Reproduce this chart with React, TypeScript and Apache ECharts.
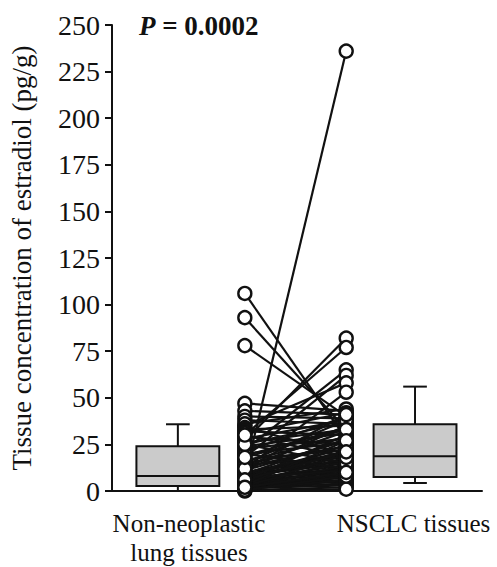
import React, { useEffect, useRef } from "react";
import * as echarts from "echarts";

// ---- data ----
const categories = ["Non-neoplastic\nlung tissues", "NSCLC tissues"];
const yTicks = { min: 0, max: 250, step: 25 };
const pValueText = "0.0002";
const yTitle = "Tissue concentration of estradiol (pg/g)";

// paired values (same index = same patient)
const nonNeoplastic = [
  8, 106, 93, 78, 27, 30, 22, 18, 35, 12, 47, 43, 40, 38, 36, 34, 33, 32, 31, 29,
  28, 26, 25, 24, 23, 21, 20, 19, 17, 16, 15, 14, 13, 11, 10, 10, 9, 9, 8.5, 8,
  7.5, 7, 6.5, 6, 5.5, 5, 5, 4.5, 4, 4, 3.5, 3, 3, 2.5, 2, 2, 1.5, 1, 0.5, 0,
  1, 2, 3, 4, 5, 6, 7, 9, 11, 13, 15, 20, 25, 30, 0.5, 12, 18, 3, 6, 2,
];
const nsclc = [
  236, 28, 33, 40, 82, 77, 65, 62, 58, 53, 43, 41, 39, 36, 44, 20, 35, 30, 42, 25,
  38, 33, 37, 31, 28, 40, 26, 34, 22, 29, 24, 18, 32, 27, 21, 19, 23, 16, 20, 15,
  17, 12, 19, 14, 10, 13, 9, 11, 8, 18, 7, 6, 12, 5, 9, 4, 3, 6, 2, 1,
  14, 20, 16, 25, 22, 30, 11, 28, 35, 24, 38, 12, 15, 18, 8, 41, 33, 27, 21, 10,
];

// box stats: [lower whisker, Q1, median, Q3, upper whisker]
const boxNonNeoplastic = [0, 2.7, 8, 24, 35.8];
const boxNsclc = [4.3, 7.5, 18.7, 35.8, 56];

// ---- layout (positions on a hidden 0..10 horizontal scale) ----
const X_MIN = 0;
const X_MAX = 10;
const BOX_X = [1.78, 8.19];
const PAIR_X = [3.59, 6.33];
const LABEL_X = [2.08, 8.15];
const BOX_HALF = 1.12;
const CAP_HALF = 0.32;

const FONT = "'Liberation Serif', 'Times New Roman', serif";

export default function App() {
  const ref = useRef<HTMLDivElement>(null);

  useEffect(() => {
    if (!ref.current) return;
    document.body.style.margin = "0";
    const chart = echarts.init(ref.current, null, { renderer: "svg" });

    const boxData = [
      [BOX_X[0], ...boxNonNeoplastic],
      [BOX_X[1], ...boxNsclc],
    ];
    const pairData = nonNeoplastic.map((l, i) => [PAIR_X[0], l, PAIR_X[1], nsclc[i]]);
    const leftPts = nonNeoplastic.map((v) => [PAIR_X[0], v]);
    const rightPts = nsclc.map((v) => [PAIR_X[1], v]);

    const stroke = { stroke: "#111", lineWidth: 2 };

    chart.setOption({
      animation: false,
      textStyle: { fontFamily: FONT },
      title: {
        text: "{i|P}{b| = " + pValueText + "}",
        left: 134,
        top: 7,
        textStyle: {
          rich: {
            i: { fontFamily: FONT, fontStyle: "italic", fontWeight: "bold", fontSize: 27, color: "#111" },
            b: { fontFamily: FONT, fontWeight: "bold", fontSize: 27, color: "#111" },
          },
        },
      },
      grid: { left: 106, right: 15, top: 25, bottom: 74 },
      xAxis: {
        type: "value",
        min: X_MIN,
        max: X_MAX,
        axisLine: { show: true, lineStyle: { color: "#111", width: 2 } },
        axisTick: { show: false },
        splitLine: { show: false },
        axisLabel: {
          customValues: LABEL_X,
          formatter: (v: number) => (v < (X_MIN + X_MAX) / 2 ? categories[0] : categories[1]),
          fontFamily: FONT,
          fontSize: 25,
          color: "#111",
          margin: 18,
          lineHeight: 29,
          align: "center",
        },
      },
      yAxis: {
        type: "value",
        min: yTicks.min,
        max: yTicks.max,
        interval: yTicks.step,
        name: yTitle,
        nameLocation: "middle",
        nameGap: 77,
        nameTextStyle: { fontFamily: FONT, fontSize: 27, color: "#111" },
        axisLine: { show: true, lineStyle: { color: "#111", width: 2 } },
        axisTick: { show: true, length: 7, lineStyle: { color: "#111", width: 2 } },
        splitLine: { show: false },
        axisLabel: { fontFamily: FONT, fontSize: 28, color: "#111", margin: 12 },
      },
      series: [
        {
          type: "custom",
          clip: false,
          data: boxData,
          encode: { x: 0, y: [1, 2, 3, 4, 5] },
          renderItem: (params: any, api: any) => {
            const x = api.value(0);
            const lo = api.value(1);
            const q1 = api.value(2);
            const med = api.value(3);
            const q3 = api.value(4);
            const hi = api.value(5);
            const c = (xx: number, yy: number) => api.coord([xx, yy]);
            const pQ3L = c(x - BOX_HALF, q3);
            const pQ1R = c(x + BOX_HALF, q1);
            const mid = c(x, 0)[0];
            const capL = c(x - CAP_HALF, 0)[0];
            const capR = c(x + CAP_HALF, 0)[0];
            const yHi = c(x, hi)[1];
            const yLo = c(x, lo)[1];
            const yMed = c(x, med)[1];
            return {
              type: "group",
              children: [
                { type: "line", shape: { x1: mid, y1: pQ3L[1], x2: mid, y2: yHi }, style: stroke },
                { type: "line", shape: { x1: capL, y1: yHi, x2: capR, y2: yHi }, style: stroke },
                { type: "line", shape: { x1: mid, y1: pQ1R[1], x2: mid, y2: yLo }, style: stroke },
                { type: "line", shape: { x1: capL, y1: yLo, x2: capR, y2: yLo }, style: stroke },
                {
                  type: "rect",
                  shape: { x: pQ3L[0], y: pQ3L[1], width: pQ1R[0] - pQ3L[0], height: pQ1R[1] - pQ3L[1] },
                  style: { fill: "#cbcbcb", stroke: "#111", lineWidth: 2 },
                },
                { type: "line", shape: { x1: pQ3L[0], y1: yMed, x2: pQ1R[0], y2: yMed }, style: stroke },
              ],
            };
          },
        },
        {
          type: "custom",
          clip: false,
          data: pairData,
          encode: { x: [0, 2], y: [1, 3] },
          renderItem: (params: any, api: any) => {
            const a = api.coord([api.value(0), api.value(1)]);
            const b = api.coord([api.value(2), api.value(3)]);
            return {
              type: "line",
              shape: { x1: a[0], y1: a[1], x2: b[0], y2: b[1] },
              style: { stroke: "#111", lineWidth: 2.2 },
            };
          },
        },
        {
          type: "scatter",
          clip: false,
          data: leftPts,
          symbol: "circle",
          symbolSize: 13,
          itemStyle: { color: "#fff", borderColor: "#111", borderWidth: 2.4, opacity: 1 },
        },
        {
          type: "scatter",
          clip: false,
          data: rightPts,
          symbol: "circle",
          symbolSize: 13,
          itemStyle: { color: "#fff", borderColor: "#111", borderWidth: 2.4, opacity: 1 },
        },
      ],
    });

    return () => chart.dispose();
  }, []);

  return <div ref={ref} style={{ width: 497, height: 567 }} />;
}
